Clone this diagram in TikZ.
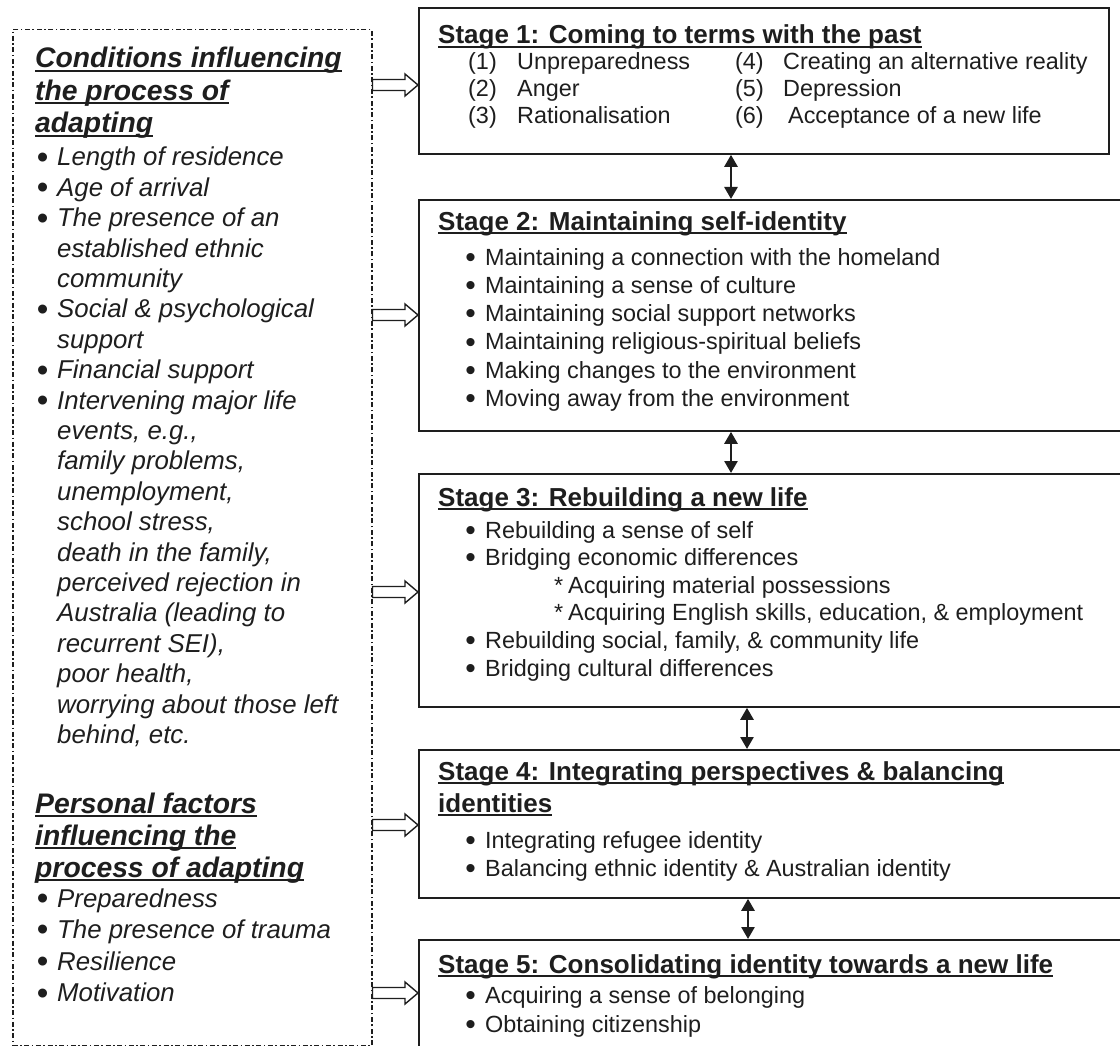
\documentclass[tikz,border=0pt]{standalone}
\usepackage{fontspec}
\setmainfont{Liberation Sans}
\usetikzlibrary{arrows.meta,calc}
\definecolor{ink}{HTML}{1E1E1E}
\newcommand\myul[1]{\setbox0\hbox{#1}\rlap{\rule[-3.8pt]{\wd0}{1.9pt}}\box0}
\newcommand\bul{\makebox[18pt][l]{\makebox[7pt][c]{\upshape\raisebox{-0.09em}{\scalebox{1.28}{\textbullet}}}}}
\newcommand\lind{\hspace*{18pt}}
\newcommand\textlines[1]{\begin{tabular}[t]{@{}l@{}}#1\end{tabular}}
\tikzset{
  stagebox/.style={draw=ink, line width=1.8pt, anchor=north west, inner sep=0pt},
  condbox/.style={draw=ink, line width=1.5pt, dash pattern=on 5pt off 2.5pt on 1.6pt off 2.5pt, anchor=north west, inner sep=0pt},
  txt/.style={anchor=base west, inner sep=0pt, text=ink},
  headtxt/.style={txt, font=\fontsize{26}{32.5}\selectfont\bfseries},
  itemtxt/.style={txt, font=\fontsize{23.4}{#1}\selectfont},
  lefthead/.style={txt, font=\fontsize{28.3}{#1}\selectfont\bfseries\itshape},
  leftitem/.style={txt, font=\fontsize{25.8}{#1}\selectfont\itshape},
  twoway/.style={draw=ink, line width=2.6pt, {Triangle[width=13pt,length=12pt]}-{Triangle[width=13pt,length=12pt]}},
  blockarrow/.style={draw=ink, fill=white, line width=1.4pt, line join=miter,
    to path={let \p1=(\tikztostart), \p2=(\tikztotarget) in
      (\x1,\y1+5.5pt) -- (\x2-13pt,\y1+5.5pt) -- (\x2-13pt,\y1+11pt) -- (\x2,\y1)
      -- (\x2-13pt,\y1-11pt) -- (\x2-13pt,\y1-5.5pt) -- (\x1,\y1-5.5pt) -- cycle}}
}
\begin{document}
\begin{tikzpicture}[x=1pt,y=-1pt]
\clip (0,0) rectangle (1120,1046);
\fill[white] (0,0) rectangle (1120,1046);

% left conditions box
\node[condbox, minimum width=359pt, minimum height=1016pt] (L) at (12,29) {};

% stage boxes
\node[stagebox, minimum width=690pt, minimum height=146pt] (S1) at (418,7) {};
\node[stagebox, minimum width=740pt, minimum height=231pt] (S2) at (418,199) {};
\node[stagebox, minimum width=740pt, minimum height=233pt] (S3) at (418,473) {};
\node[stagebox, minimum width=740pt, minimum height=148pt] (S4) at (418,749) {};
\node[stagebox, minimum width=740pt, minimum height=160pt] (S5) at (418,939) {};

% left texts
\node[lefthead=32.5] (LH1) at (35,68) {\textlines{\myul{Conditions influencing}\\\myul{the process of}\\\myul{adapting}}};
\node[leftitem=30.4] (LI1) at (39,166) {\textlines{%
\bul Length of residence\\
\bul Age of arrival\\
\bul The presence of an\\
\lind established ethnic\\
\lind community\\
\bul Social \& psychological\\
\lind support\\
\bul Financial support\\
\bul Intervening major life\\
\lind events, e.g.,\\
\lind family problems,\\
\lind unemployment,\\
\lind school stress,\\
\lind death in the family,\\
\lind perceived rejection in\\
\lind Australia (leading to\\
\lind recurrent SEI),\\
\lind poor health,\\
\lind worrying about those left\\
\lind behind, etc.}};
\node[lefthead=32] (LH2) at (35,813) {\textlines{\myul{Personal factors}\\\myul{influencing the}\\\myul{process of adapting}}};
\node[leftitem=31.6] (LI2) at (39,907) {\textlines{%
\bul Preparedness\\
\bul The presence of trauma\\
\bul Resilience\\
\bul Motivation}};

% stage 1
\node[headtxt] (H1) at (438,44) {\myul{Stage 1: Coming to terms with the past}};
\node[itemtxt=27] (T1) at (468,70) {\textlines{%
\makebox[49pt][l]{(1)}\makebox[218pt][l]{Unpreparedness}\makebox[48pt][l]{(4)}Creating an alternative reality\\
\makebox[49pt][l]{(2)}\makebox[218pt][l]{Anger}\makebox[48pt][l]{(5)}Depression\\
\makebox[49pt][l]{(3)}\makebox[218pt][l]{Rationalisation}\makebox[53pt][l]{(6)}Acceptance of a new life}};

% stage 2
\node[headtxt] (H2) at (438,230) {\myul{Stage 2: Maintaining self-identity}};
\node[itemtxt=28.3] (T2) at (467,265) {\textlines{%
\bul Maintaining a connection with the homeland\\
\bul Maintaining a sense of culture\\
\bul Maintaining social support networks\\
\bul Maintaining religious-spiritual beliefs\\
\bul Making changes to the environment\\
\bul Moving away from the environment}};

% stage 3
\node[headtxt] (H3) at (438,506) {\myul{Stage 3: Rebuilding a new life}};
\node[itemtxt=27.6] (T3) at (467,538) {\textlines{%
\bul Rebuilding a sense of self\\
\bul Bridging economic differences\\
\hspace*{87pt}\makebox[14pt][l]{*}Acquiring material possessions\\
\hspace*{87pt}\makebox[14pt][l]{*}Acquiring English skills, education, \& employment\\
\bul Rebuilding social, family, \& community life\\
\bul Bridging cultural differences}};

% stage 4
\node[headtxt] (H4) at (438,780) {\textlines{\myul{Stage 4: Integrating perspectives \& balancing}\\\myul{identities}}};
\node[itemtxt=28.5] (T4) at (467,848) {\textlines{%
\bul Integrating refugee identity\\
\bul Balancing ethnic identity \& Australian identity}};

% stage 5
\node[headtxt] (H5) at (438,973) {\myul{Stage 5: Consolidating identity towards a new life}};
\node[itemtxt=29] (T5) at (467,1003) {\textlines{%
\bul Acquiring a sense of belonging\\
\bul Obtaining citizenship}};

% two-way arrows between stages
\coordinate (c1) at (731,0);
\coordinate (c2) at (731,0);
\coordinate (c3) at (747,0);
\coordinate (c4) at (748,0);
\draw[twoway] (S1.south -| c1) -- (S2.north -| c1);
\draw[twoway] (S2.south -| c2) -- (S3.north -| c2);
\draw[twoway] (S3.south -| c3) -- (S4.north -| c3);
\draw[twoway] (S4.south -| c4) -- (S5.north -| c4);

% block arrows from conditions to stages
\coordinate (r1) at (0,85);
\coordinate (r2) at (0,315);
\coordinate (r3) at (0,592);
\coordinate (r4) at (0,825);
\coordinate (r5) at (0,993);
\draw[blockarrow] (L.east |- r1) to (S1.west |- r1);
\draw[blockarrow] (L.east |- r2) to (S2.west |- r2);
\draw[blockarrow] (L.east |- r3) to (S3.west |- r3);
\draw[blockarrow] (L.east |- r4) to (S4.west |- r4);
\draw[blockarrow] (L.east |- r5) to (S5.west |- r5);
\end{tikzpicture}
\end{document}
